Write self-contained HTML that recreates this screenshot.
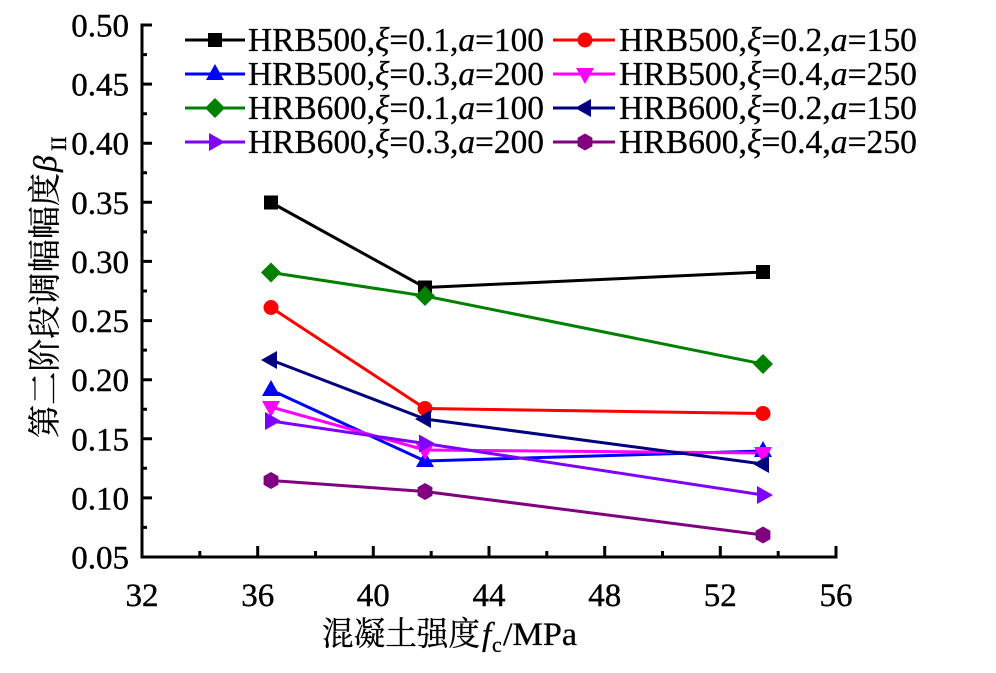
<!DOCTYPE html>
<html>
<head>
<meta charset="utf-8">
<style>
  html,body{margin:0;padding:0;background:#fff;}
  svg{display:block;}
</style>
</head>
<body>
<svg width="996" height="673" viewBox="0 0 996 673" xmlns="http://www.w3.org/2000/svg">
  <defs>
    <rect id="sq" x="-7" y="-7" width="14" height="14"/>
    <circle id="ci" cx="0" cy="0" r="7.5"/>
    <polygon id="tu" points="0,-10 9,6 -9,6"/>
    <polygon id="td" points="0,10 9,-6 -9,-6"/>
    <polygon id="tl" points="-10,0 6,-9 6,9"/>
    <polygon id="tr" points="10,0 -6,-9 -6,9"/>
    <polygon id="di" points="0,-10 10,0 0,10 -10,0"/>
    <polygon id="hx" points="0,-8.5 7.4,-4.3 7.4,4.3 0,8.5 -7.4,4.3 -7.4,-4.3"/>
  </defs>

  <!-- axes -->
  <g stroke="#000" stroke-width="3" fill="none">
    <line x1="142" y1="23.5" x2="142" y2="558.5"/>
    <line x1="140.5" y1="557" x2="837.5" y2="557"/>
    <path d="M142 25H152M142 84.1H152M142 143.2H152M142 202.3H152M142 261.4H152M142 320.6H152M142 379.7H152M142 438.8H152M142 497.9H152"/>
    <path d="M142 54.6H147M142 113.7H147M142 172.8H147M142 231.9H147M142 291H147M142 350.1H147M142 409.2H147M142 468.3H147M142 527.4H147"/>
    <path d="M257.7 557V546M373.3 557V546M489 557V546M604.7 557V546M720.3 557V546M836 557V546"/>
    <path d="M199.8 557V551M315.5 557V551M431.2 557V551M546.8 557V551M662.5 557V551M778.2 557V551"/>
  </g>

  <!-- y tick labels -->
  <g font-family="Liberation Serif, Noto Serif CJK SC, serif" font-size="33" fill="#000" stroke="#000" stroke-width="0.4" text-anchor="end">
    <text x="129" y="36.5">0.50</text>
    <text x="129" y="95.6">0.45</text>
    <text x="129" y="154.7">0.40</text>
    <text x="129" y="213.8">0.35</text>
    <text x="129" y="272.9">0.30</text>
    <text x="129" y="332.1">0.25</text>
    <text x="129" y="391.2">0.20</text>
    <text x="129" y="450.3">0.15</text>
    <text x="129" y="509.4">0.10</text>
    <text x="129" y="568.5">0.05</text>
  </g>
  <!-- x tick labels -->
  <g font-family="Liberation Serif, Noto Serif CJK SC, serif" font-size="33" fill="#000" stroke="#000" stroke-width="0.4" text-anchor="middle">
    <text x="142" y="606">32</text>
    <text x="257.7" y="606">36</text>
    <text x="373.3" y="606">40</text>
    <text x="489" y="606">44</text>
    <text x="604.7" y="606">48</text>
    <text x="720.3" y="606">52</text>
    <text x="836" y="606">56</text>
  </g>

  <!-- x title -->
  <g font-family="Liberation Serif, Noto Serif CJK SC, serif" font-size="33" fill="#000" stroke="#000" stroke-width="0.3">
    <text x="322" y="645" textLength="158" lengthAdjust="spacingAndGlyphs">混凝土强度</text>
    <text x="482" y="645" font-style="italic">f</text>
    <text x="492" y="652" font-size="22">c</text>
    <text x="503" y="645" textLength="74" lengthAdjust="spacingAndGlyphs">/MPa</text>
  </g>

  <!-- y title -->
  <g transform="translate(56,438) rotate(-90)" font-family="Liberation Serif, Noto Serif CJK SC, serif" font-size="33" fill="#000" stroke="#000" stroke-width="0.3">
    <text x="0" y="0" textLength="265" lengthAdjust="spacingAndGlyphs">第二阶段调幅幅度</text>
    <text x="266" y="0" font-style="italic">β</text>
    <text x="287" y="10" font-size="22">II</text>
  </g>

  <!-- series -->
  <g stroke-width="3" fill="none" stroke-linejoin="round">
    <polyline stroke="#000000" points="271,202.5 425,287.5 763,272"/>
    <polyline stroke="#ff0000" points="271,307.5 425,408.5 763,413.5"/>
    <polyline stroke="#0000ff" points="271,390 425,461 763,451"/>
    <polyline stroke="#ff00ff" points="271,407 425,450 763,453"/>
    <polyline stroke="#008000" points="271,272.5 425,296 763,364"/>
    <polyline stroke="#000080" points="271,360 425,419 763,464"/>
    <polyline stroke="#8000ff" points="271,421 425,443.5 763,495"/>
    <polyline stroke="#800080" points="271,480.5 425,491.5 763,535"/>
  </g>
  <g fill="#000000"><use href="#sq" x="271" y="202.5"/><use href="#sq" x="425" y="287.5"/><use href="#sq" x="763" y="272"/></g>
  <g fill="#ff0000"><use href="#ci" x="271" y="307.5"/><use href="#ci" x="425" y="408.5"/><use href="#ci" x="763" y="413.5"/></g>
  <g fill="#0000ff"><use href="#tu" x="271" y="390"/><use href="#tu" x="425" y="461"/><use href="#tu" x="763" y="451"/></g>
  <g fill="#ff00ff"><use href="#td" x="271" y="407"/><use href="#td" x="425" y="450"/><use href="#td" x="763" y="453"/></g>
  <g fill="#008000"><use href="#di" x="271" y="272.5"/><use href="#di" x="425" y="296"/><use href="#di" x="763" y="364"/></g>
  <g fill="#000080"><use href="#tl" x="271" y="360"/><use href="#tl" x="425" y="419"/><use href="#tl" x="763" y="464"/></g>
  <g fill="#8000ff"><use href="#tr" x="271" y="421"/><use href="#tr" x="425" y="443.5"/><use href="#tr" x="763" y="495"/></g>
  <g fill="#800080"><use href="#hx" x="271" y="480.5"/><use href="#hx" x="425" y="491.5"/><use href="#hx" x="763" y="535"/></g>

  <!-- legend -->
  <g stroke-width="3">
    <line x1="185" y1="40" x2="245" y2="40" stroke="#000000"/>
    <line x1="185" y1="74" x2="245" y2="74" stroke="#0000ff"/>
    <line x1="185" y1="108" x2="245" y2="108" stroke="#008000"/>
    <line x1="185" y1="142" x2="245" y2="142" stroke="#8000ff"/>
    <line x1="553" y1="40" x2="615" y2="40" stroke="#ff0000"/>
    <line x1="553" y1="74" x2="615" y2="74" stroke="#ff00ff"/>
    <line x1="553" y1="108" x2="615" y2="108" stroke="#000080"/>
    <line x1="553" y1="142" x2="615" y2="142" stroke="#800080"/>
  </g>
  <use href="#sq" x="215" y="40" fill="#000000"/>
  <use href="#tu" x="215" y="74" fill="#0000ff"/>
  <use href="#di" x="215" y="108" fill="#008000"/>
  <use href="#tr" x="215" y="142" fill="#8000ff"/>
  <use href="#ci" x="585" y="40" fill="#ff0000"/>
  <use href="#td" x="585" y="74" fill="#ff00ff"/>
  <use href="#tl" x="585" y="108" fill="#000080"/>
  <use href="#hx" x="585" y="142" fill="#800080"/>

  <g font-family="Liberation Serif, Noto Serif CJK SC, serif" font-size="34" fill="#000" stroke="#000" stroke-width="0.3">
    <text x="248" y="51" textLength="296" lengthAdjust="spacingAndGlyphs">HRB500,<tspan font-style="italic">ξ</tspan>=0.1,<tspan font-style="italic">a</tspan>=100</text>
    <text x="248" y="85" textLength="296" lengthAdjust="spacingAndGlyphs">HRB500,<tspan font-style="italic">ξ</tspan>=0.3,<tspan font-style="italic">a</tspan>=200</text>
    <text x="248" y="119" textLength="296" lengthAdjust="spacingAndGlyphs">HRB600,<tspan font-style="italic">ξ</tspan>=0.1,<tspan font-style="italic">a</tspan>=100</text>
    <text x="248" y="153" textLength="296" lengthAdjust="spacingAndGlyphs">HRB600,<tspan font-style="italic">ξ</tspan>=0.3,<tspan font-style="italic">a</tspan>=200</text>
    <text x="619" y="51" textLength="298" lengthAdjust="spacingAndGlyphs">HRB500,<tspan font-style="italic">ξ</tspan>=0.2,<tspan font-style="italic">a</tspan>=150</text>
    <text x="619" y="85" textLength="298" lengthAdjust="spacingAndGlyphs">HRB500,<tspan font-style="italic">ξ</tspan>=0.4,<tspan font-style="italic">a</tspan>=250</text>
    <text x="619" y="119" textLength="298" lengthAdjust="spacingAndGlyphs">HRB600,<tspan font-style="italic">ξ</tspan>=0.2,<tspan font-style="italic">a</tspan>=150</text>
    <text x="619" y="153" textLength="298" lengthAdjust="spacingAndGlyphs">HRB600,<tspan font-style="italic">ξ</tspan>=0.4,<tspan font-style="italic">a</tspan>=250</text>
  </g>
</svg>
</body>
</html>
